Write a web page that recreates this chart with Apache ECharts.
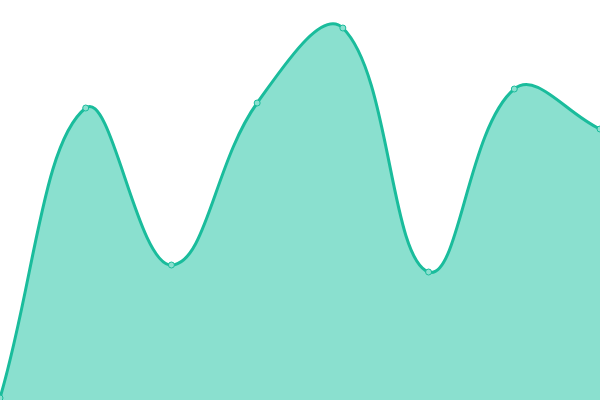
<!DOCTYPE html>
<html>
<head>
<meta charset="utf-8">
<script src="https://cdn.jsdelivr.net/npm/echarts@6/dist/echarts.min.js"></script>
<style>html,body{margin:0;padding:0;background:#fff}#c{width:600px;height:400px}</style>
</head>
<body>
<div id="c"></div>
<script>
var categories = ['A', 'B', 'C', 'D', 'E', 'F', 'G', 'H'];
var values = [2, 292, 135, 297, 372, 128, 311, 271];

var LINE = '#1abc9c';
var FILL = '#8ae0cf';
var TENSION = 0.4;

function splinePath(pts, t) {
  var n = pts.length;
  var cps = [];
  for (var i = 0; i < n; i++) {
    var prev = pts[i - 1] || pts[i];
    var cur = pts[i];
    var next = pts[i + 1] || pts[i];
    var d01 = Math.hypot(cur[0] - prev[0], cur[1] - prev[1]);
    var d12 = Math.hypot(next[0] - cur[0], next[1] - cur[1]);
    var s01 = d01 / (d01 + d12 || 1);
    var s12 = d12 / (d01 + d12 || 1);
    var fa = t * s01, fb = t * s12;
    cps.push({
      inX: cur[0] - fa * (next[0] - prev[0]),
      inY: cur[1] - fa * (next[1] - prev[1]),
      outX: cur[0] + fb * (next[0] - prev[0]),
      outY: cur[1] + fb * (next[1] - prev[1])
    });
  }
  var d = 'M' + pts[0][0] + ' ' + pts[0][1];
  for (var j = 1; j < n; j++) {
    d += ' C' + cps[j - 1].outX + ' ' + cps[j - 1].outY + ' ' + cps[j].inX + ' ' + cps[j].inY + ' ' + pts[j][0] + ' ' + pts[j][1];
  }
  return d;
}

var chart = echarts.init(document.getElementById('c'));
chart.setOption({
  animation: false,
  grid: { left: 0, right: 0, top: 0, bottom: 0, containLabel: false },
  xAxis: { type: 'category', data: categories, boundaryGap: false, show: false },
  yAxis: { type: 'value', min: 0, max: 400, show: false },
  series: [{
    type: 'custom',
    clip: false,
    data: values.map(function (v, i) { return [i, v]; }),
    renderItem: function (params, api) {
      if (params.dataIndex !== 0) return null;
      var pts = values.map(function (v, i) { return api.coord([i, v]); });
      var line = splinePath(pts, TENSION);
      var base0 = api.coord([0, 0]);
      var base1 = api.coord([values.length - 1, 0]);
      var area = line + ' L' + base1[0] + ' ' + base1[1] + ' L' + base0[0] + ' ' + base0[1] + ' Z';
      return {
        type: 'group',
        children: [
          { type: 'path', shape: { pathData: area }, style: { fill: FILL, stroke: null } },
          { type: 'path', shape: { pathData: line }, style: { fill: null, stroke: LINE, lineWidth: 3 } }
        ]
      };
    }
  }, {
    type: 'scatter',
    data: values.map(function (v, i) { return [i, v]; }),
    symbol: 'circle',
    symbolSize: 6,
    itemStyle: { color: FILL, borderColor: LINE, borderWidth: 1, opacity: 1 }
  }]
});
</script>
</body>
</html>
